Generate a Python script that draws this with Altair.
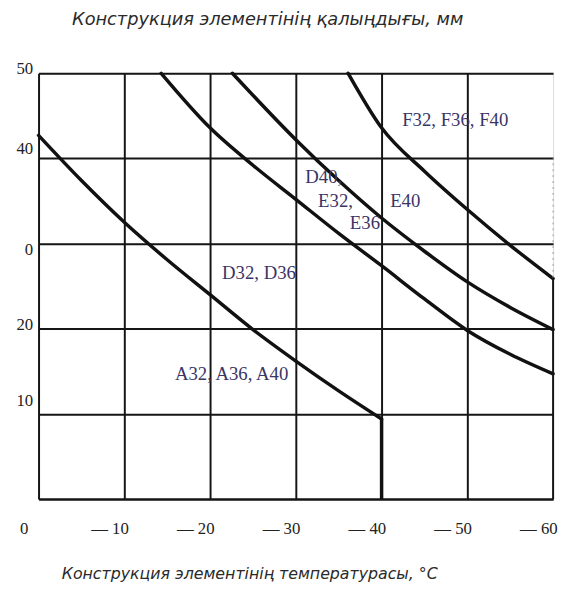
import altair as alt
import pandas as pd

# axis ticks
temp_ticks = [0, -10, -20, -30, -40, -50, -60]
thick_ticks = [0, 10, 20, 30, 40, 50]

# curves: temperature (°C) vs thickness (mm)
a_t = [0, -5, -10, -15, -20, -25, -30, -35, -40]
a_v = [42.7, 37.4, 32.5, 28.1, 24.0, 19.9, 16.2, 12.7, 9.4]
a_drop_t = [-40]
a_drop_v0 = [0]
a_drop_v1 = [9.4]

d_t = [-14.3, -20, -25, -30, -35, -40, -45, -50, -55, -60]
d_v = [50, 43.6, 39.2, 35.2, 31.2, 27.4, 23.5, 19.8, 17.0, 14.7]

e_t = [-22.6, -30, -35, -40, -45, -50, -55, -60]
e_v = [50, 42.2, 37.4, 33.0, 29.1, 25.5, 22.5, 19.9]

f_t = [-36.1, -40, -45, -50, -55, -60]
f_v = [50, 43.6, 38.5, 34.0, 29.8, 25.9]

# curve labels
lab_text = ["A32, A36, A40", "D32, D36", "D40,", "E32,", "E36", "E40", "F32, F36, F40"]
lab_t = [-15.9, -21.4, -31.1, -32.6, -36.3, -41.0, -42.4]
lab_v = [14.7, 26.5, 37.8, 35.0, 32.4, 35.0, 44.5]

# right frame (solid lower part, faint upper part)
rb_t = [-60]
rb_v0 = [0]
rb_v1 = [26]
rbf_v0 = [26]
rbf_v1 = [40]

top_title = "Конструкция элементінің қалыңдығы, мм"
bottom_title = "Конструкция элементінің температурасы, °C"

rows = []
for name, ts, vs in [("A", a_t, a_v), ("D", d_t, d_v), ("E", e_t, e_v), ("F", f_t, f_v)]:
    for i, (t, v) in enumerate(zip(ts, vs)):
        rows.append({"series": name, "idx": i, "t": t, "v": v})
curves = pd.DataFrame(rows)
drop = pd.DataFrame({"t": a_drop_t, "v": a_drop_v0, "v2": a_drop_v1})
labels = pd.DataFrame({"t": lab_t, "v": lab_v, "text": lab_text})
rb = pd.DataFrame({"t": rb_t, "v": rb_v0, "v2": rb_v1})
rbf = pd.DataFrame({"t": rb_t, "v": rbf_v0, "v2": rbf_v1})
ttl = pd.DataFrame({"text": [top_title]})

xscale = alt.Scale(domain=[0, -60], nice=False, zero=False)
yscale = alt.Scale(domain=[0, 50], nice=False, zero=False)

GRID = "#151515"
xaxis = alt.Axis(
    values=temp_ticks,
    labelExpr="datum.value == 0 ? '0' : '— ' + abs(datum.value)",
    grid=True, gridColor=GRID, gridWidth=2,
    gridOpacity=alt.expr("datum.value == -60 ? 0 : 1"),
    ticks=False, domain=True, domainColor=GRID, domainWidth=2,
    labelFont="Liberation Serif", labelFontSize=17, labelColor="#222222",
    labelBaseline="middle", labelPadding=30, labelOffset=-15, labelAlign="center",
    title=bottom_title,
    titleFont="DejaVu Sans", titleFontStyle="italic", titleFontWeight="normal",
    titleFontSize=16, titleColor="#2a2a2a",
    titleX=23, titleY=76, titleAlign="left", titleBaseline="middle", titleAnchor="start",
)
yaxis = alt.Axis(
    values=thick_ticks,
    labelExpr="datum.value == 0 ? '' : datum.value == 30 ? '0' : datum.label",
    grid=True, gridColor=GRID, gridWidth=2,
    ticks=False, domain=False,
    labelFont="Liberation Serif", labelFontSize=17, labelColor="#222222",
    labelPadding=6, labelAlign="right", labelBaseline="middle",
    labelOffset=alt.expr("datum.value == 40 ? -10 : datum.value == 30 ? 6 : datum.value == 10 ? -14 : datum.value == 20 ? -4 : -5"),
    title=None,
)

X = alt.X("t:Q", scale=xscale, axis=xaxis)
Y = alt.Y("v:Q", scale=yscale, axis=yaxis)

lines = alt.Chart(curves).mark_line(
    color="#111111", strokeWidth=3.5, interpolate="monotone", strokeCap="round"
).encode(x=X, y=Y, detail="series:N", order="idx:Q")

drop_rule = alt.Chart(drop).mark_rule(color="#111111", strokeWidth=3.5).encode(
    x=X, y=Y, y2="v2:Q"
)

right_border = alt.Chart(rb).mark_rule(color=GRID, strokeWidth=2).encode(
    x=X, y=Y, y2="v2:Q"
)
right_faint = alt.Chart(rbf).mark_rule(color="#9a9a9a", strokeWidth=1, strokeDash=[2, 4]).encode(
    x=X, y=Y, y2="v2:Q"
)

text = alt.Chart(labels).mark_text(
    align="left", baseline="middle", font="Liberation Serif", fontSize=19, color="#3a3566"
).encode(x=X, y=Y, text="text:N")

title_mark = alt.Chart(ttl).mark_text(
    align="left", baseline="middle", font="DejaVu Sans", fontStyle="italic",
    fontSize=18, color="#2a2a2a",
).encode(x=alt.value(34), y=alt.value(-54), text="text:N")

chart = alt.layer(lines, drop_rule, right_border, right_faint, text, title_mark).properties(
    width=522,
    height=432,
    autosize=alt.AutoSizeParams(type="none"),
    padding={"left": 31, "top": 62, "right": 6, "bottom": 86},
).configure_view(stroke=None).configure(background="white")

chart.save("out.html", embed_options={"renderer": "svg", "actions": False})
